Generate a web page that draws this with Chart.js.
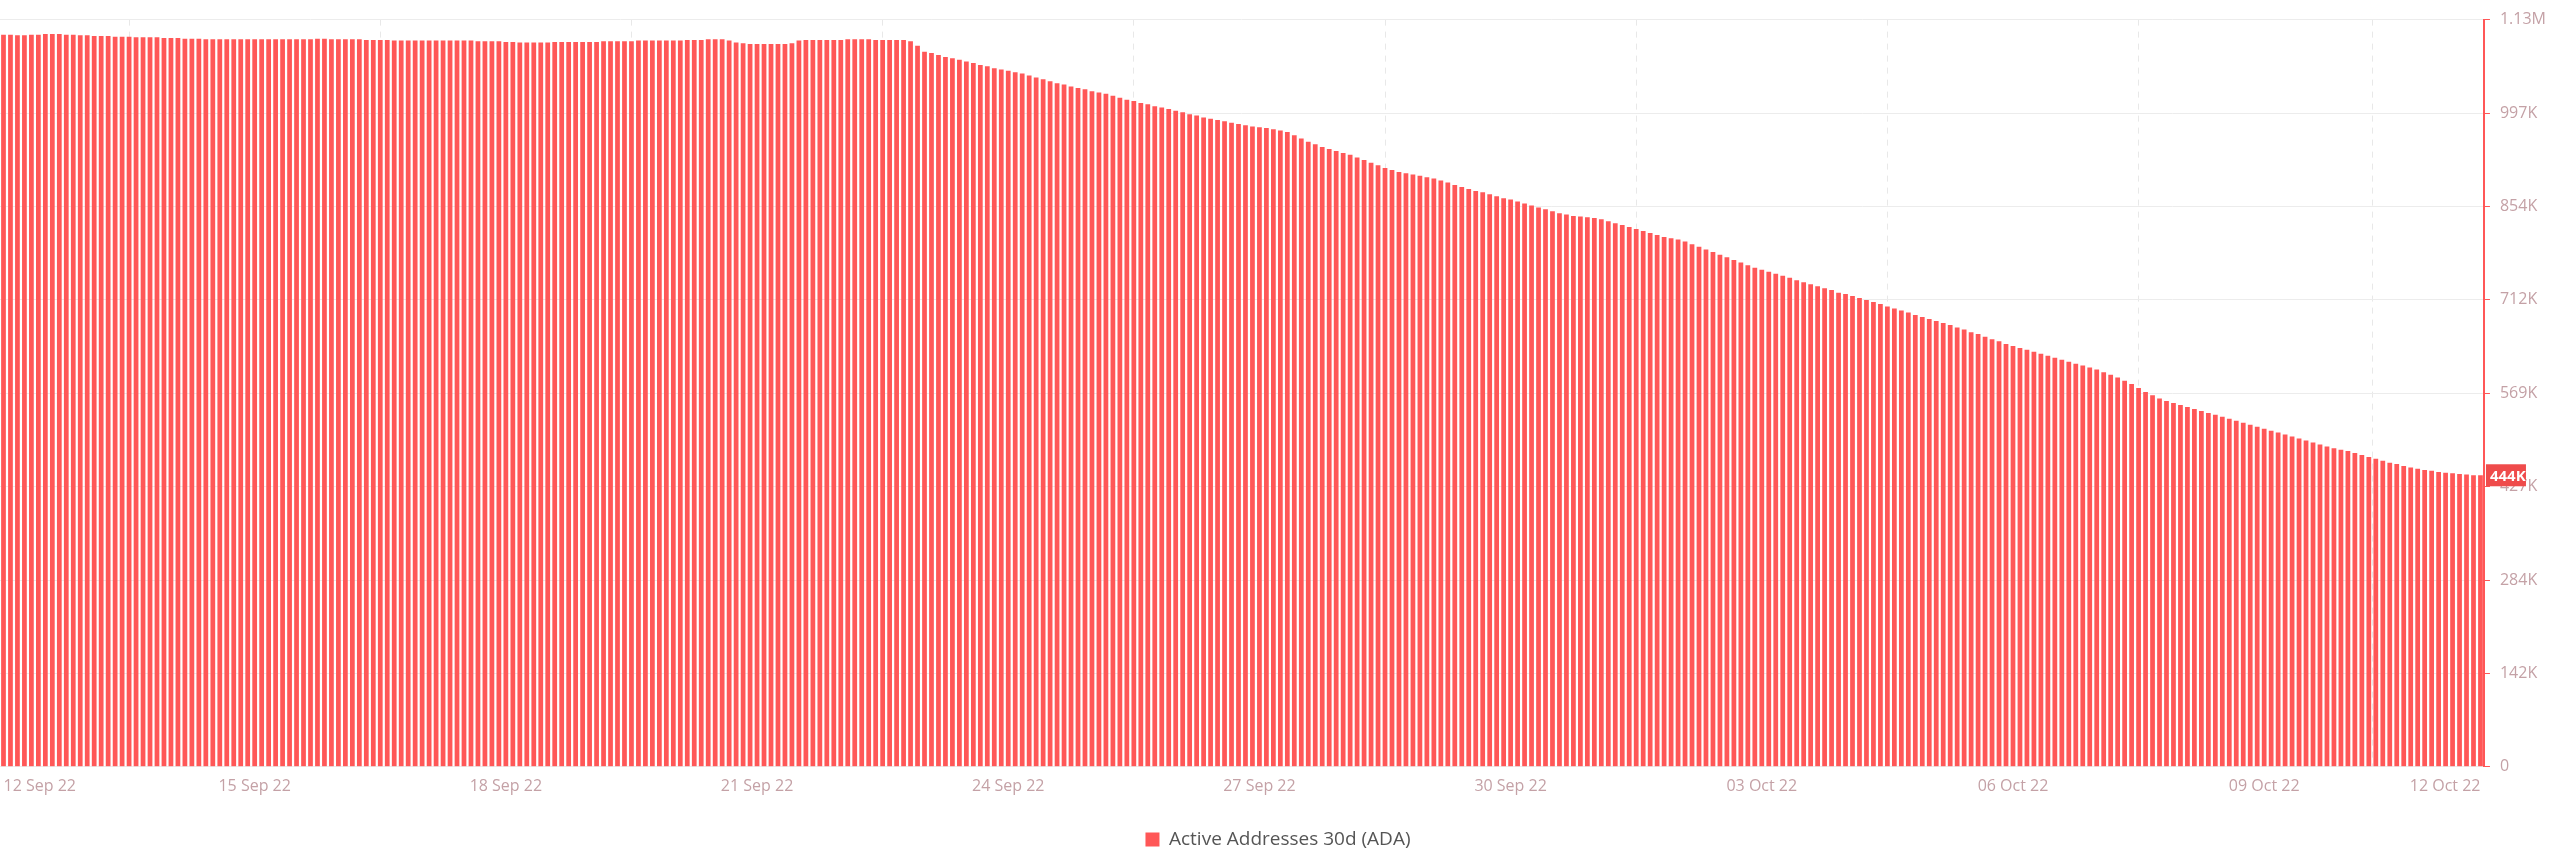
<!DOCTYPE html>
<html><head><meta charset="utf-8">
<script src="https://cdn.jsdelivr.net/npm/chart.js@4"></script>
<style>html,body{margin:0;padding:0;background:#fff;}#wrap{width:2560px;height:867px;position:relative;}</style>
</head><body><div id="wrap"><canvas id="c"></canvas></div>
<script>
const seriesName = "Active Addresses 30d (ADA)";
const startDate = "2022-09-12";
const stepHours = 2;
const yTicks = [0,142250,284500,426750,569000,711250,853500,995750,1138000];
const yTickLabels = ["0","142K","284K","427K","569K","712K","854K","997K","1.13M"];
// values in thousands, 12 per day (2-hourly)
const valuesK = [
1115,1115,1114,1114,1115,1115,1116,1116,1116,1115,1115,1114,
1114,1113,1113,1113,1112,1112,1112,1111,1111,1111,1111,1110,
1110,1110,1109,1109,1109,1108,1108,1108,1108,1108,1108,1108,
1108,1108,1108,1108,1108,1108,1108,1108,1108,1109,1109,1108,
1108,1108,1108,1108,1107,1107,1107,1107,1106,1106,1106,1106,
1106,1106,1106,1106,1106,1106,1106,1106,1105,1105,1105,1105,
1104,1104,1103,1103,1103,1103,1103,1104,1104,1104,1104,1104,
1104,1104,1105,1105,1105,1105,1105,1106,1106,1106,1106,1106,
1106,1106,1107,1107,1107,1108,1108,1108,1106,1103,1102,1101,
1101,1101,1101,1101,1101,1102,1106,1107,1107,1107,1107,1107,
1107,1108,1108,1108,1108,1107,1107,1107,1107,1107,1105,1098,
1089,1087,1084,1081,1079,1077,1074,1072,1069,1067,1064,1062,
1060,1058,1056,1053,1050,1047,1044,1041,1039,1036,1034,1032,
1029,1027,1025,1022,1019,1016,1014,1011,1009,1006,1004,1002,
999,997,994,992,989,987,985,983,981,979,977,975,
974,973,971,969,967,962,957,952,948,944,941,938,
935,932,928,924,920,916,912,909,906,904,902,900,
898,896,893,890,886,883,880,877,875,872,869,866,
864,861,858,855,852,849,846,843,841,839,838,837,
836,834,831,828,825,822,819,816,813,810,807,805,
803,800,796,792,788,784,780,776,772,768,764,760,
757,754,751,748,745,741,738,735,732,729,726,722,
720,717,714,711,708,705,701,698,695,692,688,685,
682,679,676,673,669,666,662,659,655,651,648,644,
641,638,635,632,629,626,623,620,617,614,611,608,
605,601,597,593,588,583,577,571,566,561,557,554,
551,548,545,542,539,536,533,530,527,524,521,518,
515,512,509,506,503,500,497,494,491,488,485,483,
481,478,475,472,469,466,463,461,458,456,454,452,
451,449,448,447,446,445,444,444
];
const values = valuesK.map(v => v*1000);
const months = ["Jan","Feb","Mar","Apr","May","Jun","Jul","Aug","Sep","Oct","Nov","Dec"];
const labels = values.map((_, i) => {
  const d = new Date(startDate + "T00:00:00Z");
  d.setUTCHours(d.getUTCHours() + i*stepHours);
  return String(d.getUTCDate()).padStart(2,"0") + " " + months[d.getUTCMonth()] + " 22";
});
const ticksPerLabel = 36; // every 3 days
const RED = "#ff5757";
const TXT = "#c4a1a6";

const lastTag = {
  id: "lastTag",
  afterDraw(chart) {
    const y = chart.scales.y, ctx = chart.ctx;
    const v = values[values.length-1];
    const py = y.getPixelForValue(v);
    ctx.save();
    ctx.fillStyle = "#ef4b4b";
    ctx.fillRect(y.left + 2, py - 11, 40, 22);
    ctx.fillStyle = "#fff";
    ctx.font = "bold 15px 'Open Sans', sans-serif";
    ctx.textBaseline = "middle";
    ctx.fillText(Math.round(v/1000) + "K", y.left + 6, py + 1);
    ctx.restore();
  }
};

new Chart(document.getElementById("c"), {
  type: "bar",
  data: { labels, datasets: [{ label: seriesName, data: values, backgroundColor: RED,
    barPercentage: 0.68, categoryPercentage: 1.0 }] },
  options: {
    responsive: true, maintainAspectRatio: false, animation: false,
    layout: { padding: { top: 0, left: 0, right: 4, bottom: 8 } },
    plugins: {
      legend: { position: "bottom", labels: { color: "#555", boxWidth: 14, boxHeight: 14,
        font: { size: 19, family: "'Open Sans', sans-serif" }, padding: 24 } },
      tooltip: { enabled: false }
    },
    scales: {
      x: {
        offset: true,
        afterFit(s) { s.paddingLeft = 0; s.paddingRight = 0; },
        grid: { display: true, drawTicks: false, color: "#e8e8e8" },
        border: { display: false, dash: [6,6] },
        ticks: { autoSkip: false, maxRotation: 0, align: "inner", color: TXT, padding: 10,
          font: { size: 16, family: "'Open Sans', sans-serif" },
          callback: function(val, i) { return i % ticksPerLabel === 0 ? labels[i] : (i === values.length-1 ? "12 Oct 22" : null); } }
      },
      y: {
        position: "right", min: 0, max: 1138000,
        afterBuildTicks(s) { s.ticks = yTicks.map(v => ({ value: v })); },
        grid: { color: "#ececec", drawTicks: true, tickLength: 6, tickColor: RED },
        border: { display: true, color: RED, width: 2, dash: [] },
        ticks: { color: TXT, padding: 10, font: { size: 16, family: "'Open Sans', sans-serif" },
          callback: (v) => yTickLabels[yTicks.indexOf(v)] }
      }
    }
  },
  plugins: [lastTag]
});
</script></body></html>
